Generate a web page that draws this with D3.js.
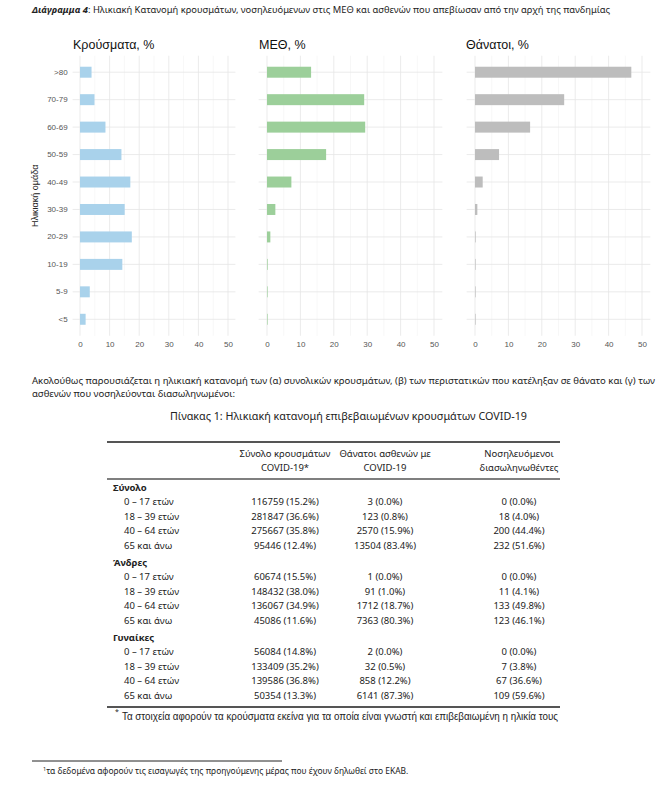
<!DOCTYPE html>
<html><head><meta charset="utf-8">
<script src="https://cdn.jsdelivr.net/npm/d3@7"></script>
<style>body{margin:0;background:#fff}</style>
</head><body>
<svg id="c" width="668" height="795"></svg>
<script>
// ---- chart data ----
const ageGroups = ["<5","5-9","10-19","20-29","30-39","40-49","50-59","60-69","70-79",">80"];
const casesPct  = [1.9, 3.3, 14.3, 17.5, 15.1, 17.0, 14.0, 8.6, 4.9, 3.9];
const icuPct    = [0.1, 0.1, 0.2, 1.0, 2.5, 7.3, 17.7, 29.4, 29.1, 13.2];
const deathsPct = [0.05, 0.0, 0.1, 0.2, 0.7, 2.3, 7.2, 16.5, 26.7, 46.8];
const panelTitles = ["Κρούσματα, %", "ΜΕΘ, %", "Θάνατοι, %"];
const xTicks = [0, 10, 20, 30, 40, 50];
const xMinor = [5, 15, 25, 35, 45];

// ---- table data ----
const groupNames = ["Σύνολο", "Άνδρες", "Γυναίκες"];
const ageBands = ["0 – 17 ετών", "18 – 39 ετών", "40 – 64 ετών", "65 και άνω"];
const colHeaders = [["Σύνολο κρουσμάτων","COVID-19*"],["Θάνατοι ασθενών με","COVID-19"],["Νοσηλευόμενοι","διασωληνωθέντες"]];
const casesN  = [116759,281847,275667,95446, 60674,148432,136067,45086, 56084,133409,139586,50354];
const casesP  = [15.2,36.6,35.8,12.4, 15.5,38.0,34.9,11.6, 14.8,35.2,36.8,13.3];
const deathsN = [3,123,2570,13504, 1,91,1712,7363, 2,32,858,6141];
const deathsP = [0.0,0.8,15.9,83.4, 0.0,1.0,18.7,80.3, 0.0,0.5,12.2,87.3];
const intubN  = [0,18,200,232, 0,11,133,123, 0,7,67,109];
const intubP  = [0.0,4.0,44.4,51.6, 0.0,4.1,49.8,46.1, 0.0,3.8,36.6,59.6];

// ---- texts ----
const headerBold = "Διάγραμμα 4";
const headerRest = ": Ηλικιακή Κατανομή κρουσμάτων, νοσηλευόμενων στις ΜΕΘ και ασθενών που απεβίωσαν από την αρχή της πανδημίας";
const para1 = "Ακολούθως παρουσιάζεται η ηλικιακή κατανομή των (α) συνολικών κρουσμάτων, (β) των περιστατικών που κατέληξαν σε θάνατο και (γ) των";
const para2 = "ασθενών που νοσηλεύονται διασωληνωμένοι:";
const tableTitle = "Πίνακας 1: Ηλικιακή κατανομή επιβεβαιωμένων κρουσμάτων COVID-19";
const tableNote = "Τα στοιχεία αφορούν τα κρούσματα εκείνα για τα οποία είναι γνωστή και επιβεβαιωμένη η ηλικία τους";
const pageNote = "τα δεδομένα αφορούν τις εισαγωγές της προηγούμενης μέρας που έχουν δηλωθεί στο ΕΚΑΒ.";

const svg = d3.select("#c");
svg.append("rect").attr("width",668).attr("height",795).attr("fill","#fff");
const proseFont = "'Noto Sans', 'Open Sans', sans-serif";
const chartFont = "'Liberation Sans', Arial, sans-serif";

// header
const h = svg.append("text").attr("x",32).attr("y",12.5).attr("font-family",proseFont)
  .attr("font-size",9.5).attr("fill","#222").attr("textLength",578).attr("lengthAdjust","spacingAndGlyphs");
h.append("tspan").attr("font-weight","bold").attr("font-style","italic").text(headerBold);
h.append("tspan").text(headerRest);

// ---- small multiples ----
const y = d3.scaleBand().domain(ageGroups.slice().reverse()).range([53, 338.5]).paddingInner(0.6).paddingOuter(0.5);
const step = y.step();
const yc = d => y(d) + y.bandwidth()/2;
const gridTop = yc(">80") - 0.6*step, gridBot = yc("<5") + 0.6*step;

const panels = [
  {vals: casesPct,  r:[80,228],   color:"#a9d2eb", tx:73},
  {vals: icuPct,    r:[267,434],  color:"#9ccf9a", tx:259},
  {vals: deathsPct, r:[475,642],  color:"#bdbdbd", tx:466}
];

panels.forEach((p,i)=>{
  const x = d3.scaleLinear().domain([0,50]).range(p.r);
  const g = svg.append("g");
  g.selectAll(".mn").data(xMinor).join("line")
    .attr("x1",d=>x(d)).attr("x2",d=>x(d)).attr("y1",gridTop).attr("y2",gridBot)
    .attr("stroke","#f2f2f2").attr("stroke-width",0.6);
  g.selectAll(".mj").data(xTicks).join("line")
    .attr("x1",d=>x(d)).attr("x2",d=>x(d)).attr("y1",gridTop).attr("y2",gridBot)
    .attr("stroke","#e6e6e6").attr("stroke-width",0.8);
  g.selectAll(".hg").data(ageGroups).join("line")
    .attr("x1",x(-2.5)).attr("x2",x(52.5)).attr("y1",d=>yc(d)).attr("y2",d=>yc(d))
    .attr("stroke","#e6e6e6").attr("stroke-width",0.8);
  g.selectAll(".bar").data(ageGroups.map((a,k)=>({a, v:p.vals[k]}))).join("rect")
    .attr("x",x(0)).attr("y",d=>y(d.a)).attr("height",y.bandwidth())
    .attr("width",d=>Math.max(0.6, x(d.v)-x(0))).attr("fill",p.color);
  const ax = g.append("g").attr("transform",`translate(0,${gridBot+3})`)
    .call(d3.axisBottom(x).tickValues(xTicks).tickSize(0).tickPadding(3));
  ax.select(".domain").remove();
  ax.selectAll("text").attr("font-family",chartFont).attr("font-size",8).attr("fill","#555");
  g.append("text").attr("x",p.tx).attr("y",49).attr("font-family",chartFont)
    .attr("font-size",12.5).attr("fill","#111").text(panelTitles[i]);
  if(i===0){
    const ay = g.append("g").attr("transform",`translate(${x(-2.5)-2},0)`)
      .call(d3.axisLeft(y).tickSize(0).tickPadding(3));
    ay.select(".domain").remove();
    ay.selectAll("text").attr("font-family",chartFont).attr("font-size",8).attr("fill","#555");
    g.append("text").attr("transform",`translate(38,${(gridTop+gridBot)/2}) rotate(-90)`)
      .attr("text-anchor","middle").attr("font-family",chartFont).attr("font-size",9).attr("fill","#222")
      .text("Ηλικιακή ομάδα");
  }
});

// ---- prose ----
svg.append("text").attr("x",32).attr("y",384).attr("font-family",proseFont).attr("font-size",9).attr("fill","#222")
  .attr("textLength",623).attr("lengthAdjust","spacingAndGlyphs").text(para1);
svg.append("text").attr("x",32).attr("y",397).attr("font-family",proseFont).attr("font-size",9).attr("fill","#222")
  .attr("textLength",203).attr("lengthAdjust","spacingAndGlyphs").text(para2);
svg.append("text").attr("x",170).attr("y",420).attr("font-family",proseFont).attr("font-size",11).attr("fill","#222")
  .attr("textLength",357).attr("lengthAdjust","spacingAndGlyphs").text(tableTitle);

// ---- table ----
const T = svg.append("g").attr("font-family",proseFont).attr("fill","#222");
const colX = [285, 385, 519];
T.append("line").attr("x1",107).attr("x2",560).attr("y1",442).attr("y2",442).attr("stroke","#555").attr("stroke-width",2);
T.append("line").attr("x1",107).attr("x2",560).attr("y1",479).attr("y2",479).attr("stroke","#555").attr("stroke-width",1.6);
T.append("line").attr("x1",107).attr("x2",560).attr("y1",707).attr("y2",707).attr("stroke","#555").attr("stroke-width",2);
colHeaders.forEach((hd,c)=>{
  hd.forEach((line,l)=>{
    T.append("text").attr("x",colX[c]).attr("y",456.5+l*14).attr("text-anchor","middle")
      .attr("font-size",9.5).attr("fill","#222").text(line);
  });
});
const fmt = (n,p)=>`${n} (${p.toFixed(1)}%)`;
let yy = 487;
groupNames.forEach((gName,gi)=>{
  if(gi>0) yy += 17;
  T.append("text").attr("x",113).attr("y",yy+3.5).attr("font-size",9.5).attr("font-weight","bold").text(gName);
  ageBands.forEach((ab,ri)=>{
    yy += 14.5;
    const k = gi*4+ri;
    T.append("text").attr("x",124).attr("y",yy+3.5).attr("font-size",9.5).text(ab);
    [fmt(casesN[k],casesP[k]), fmt(deathsN[k],deathsP[k]), fmt(intubN[k],intubP[k])].forEach((s,c)=>{
      T.append("text").attr("x",colX[c]).attr("y",yy+3.5).attr("text-anchor","middle").attr("font-size",9.5).text(s);
    });
  });
});
T.append("text").attr("x",115).attr("y",714).attr("font-size",7).text("*");
T.append("text").attr("x",122).attr("y",719.5).attr("font-size",10).attr("font-family",chartFont)
  .attr("textLength",436).attr("lengthAdjust","spacingAndGlyphs").text(tableNote);

svg.append("line").attr("x1",32).attr("x2",282).attr("y1",761).attr("y2",761).attr("stroke","#222").attr("stroke-width",1);
const pn = svg.append("text").attr("x",43).attr("y",774).attr("font-family",proseFont).attr("font-size",8).attr("fill","#222");
pn.append("tspan").attr("font-size",5.5).attr("dy",-3).text("1");
pn.append("tspan").attr("dy",3).attr("textLength",362).attr("lengthAdjust","spacingAndGlyphs").text(pageNote);
</script>
</body></html>
